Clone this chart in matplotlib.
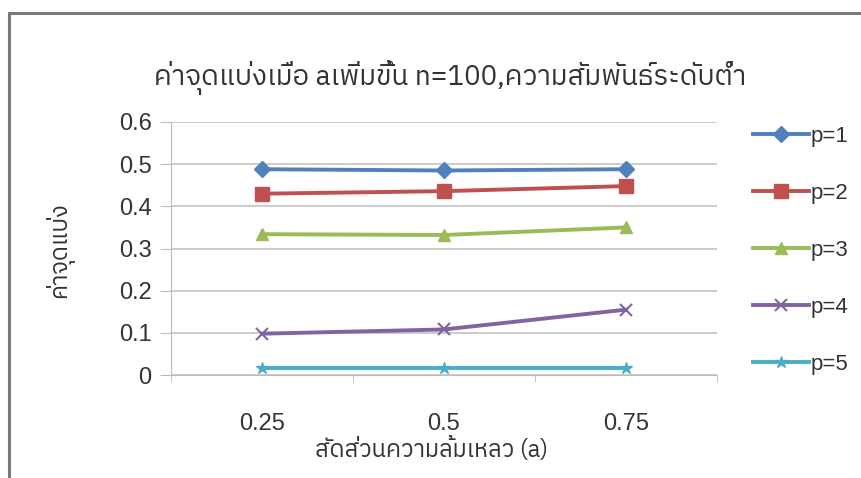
import matplotlib
matplotlib.use("Agg")
import matplotlib.pyplot as plt
from matplotlib import font_manager
from matplotlib.ft2font import FT2Font
from matplotlib.patches import Rectangle

# Data: cut-off point as failure proportion (a) grows, n=100, low correlation
categories = ["0.25", "0.5", "0.75"]
series_names = ["p=1", "p=2", "p=3", "p=4", "p=5"]
p1 = [0.488, 0.485, 0.488]
p2 = [0.430, 0.436, 0.448]
p3 = [0.334, 0.332, 0.350]
p4 = [0.098, 0.108, 0.155]
p5 = [0.016, 0.016, 0.016]
yticks = [0, 0.1, 0.2, 0.3, 0.4, 0.5, 0.6]

title = "ค่าจุดแบ่งเมื่อ aเพิ่มขึ้น n=100,ความสัมพันธ์ระดับต่ำ"
ylabel = "ค่าจุดแบ่ง"
xlabel = "สัดส่วนความล้มเหลว (a)"


def find_thai_font():
    # pick an installed font with Thai glyphs, preferring proportional ones
    # whose tone marks take no advance width
    best, best_score = None, -1
    for path in font_manager.findSystemFonts():
        try:
            ft = FT2Font(path)
            cmap = ft.get_charmap()
        except Exception:
            continue
        if 0x0E04 not in cmap or 0x0E48 not in cmap:
            continue
        name = font_manager.FontProperties(fname=path).get_name()
        score = 0
        try:
            if ft.load_char(0x0E48).linearHoriAdvance == 0:
                score += 2
        except Exception:
            pass
        if "mono" not in name.lower():
            score += 1
        if "bold" not in path.lower() and "oblique" not in path.lower() and "italic" not in path.lower():
            score += 1
        if score > best_score:
            best, best_score = name, score
    return best


thai = find_thai_font()
names = {f.name for f in font_manager.fontManager.ttflist}
narrow = "Liberation Sans Narrow" if "Liberation Sans Narrow" in names else "Liberation Sans"
fam = ([thai] if thai else []) + [narrow, "DejaVu Sans"]
num_fam = [narrow, "DejaVu Sans"]

colors = ["#4F81BD", "#C0504D", "#9BBB59", "#8064A2", "#4BACC6"]
markers = ["D", "s", "^", "x", "*"]
sizes = [8, 10, 9, 8, 9]

fig = plt.figure(figsize=(8.62, 4.78), dpi=100)
W, H = 862, 478
fig.patches.append(Rectangle((9 / W, -0.1), 1.2, (H - 13) / H + 0.1, transform=fig.transFigure,
                             fill=False, edgecolor="#7a7a7a", linewidth=2.2))

ax = fig.add_axes([171 / W, 1 - 375 / H, (717 - 171) / W, (375 - 122) / H])
x = list(range(len(categories)))
for vals, name, c, m, s in zip([p1, p2, p3, p4, p5], series_names, colors, markers, sizes):
    ax.plot(x, vals, color=c, marker=m, markersize=s, linewidth=2.8, label=name,
            markeredgewidth=1.5 if m in ("x",) else 1.0)

ax.set_xlim(-0.5, 2.5)
ax.set_ylim(0, 0.6)
ax.set_yticks(yticks)
ax.set_yticklabels(["0" if v == 0 else f"{v:.1f}" for v in yticks], family=num_fam, fontsize=17, color="#333333")
ax.set_xticks(x)
ax.set_xticklabels(categories, family=num_fam, fontsize=17, color="#333333")
ax.set_xticks([-0.5, 0.5, 1.5, 2.5], minor=True)
ax.tick_params(axis="x", which="major", length=0, pad=27)
ax.tick_params(axis="x", which="minor", length=5, color="#bbbbbb")
ax.tick_params(axis="y", length=8, color="#bbbbbb", pad=6)
ax.grid(axis="y", color="#c8c8c8", linewidth=1.3)
ax.set_axisbelow(True)
for side in ("top", "right"):
    ax.spines[side].set_visible(False)
ax.spines["left"].set_color("#bbbbbb")
ax.spines["bottom"].set_color("#bbbbbb")

fig.text(450 / W, 1 - 78 / H, title, ha="center", va="center", fontsize=20, family=fam, color="#333333")
fig.text(60 / W, 1 - 250 / H, ylabel, ha="center", va="center", rotation=90, fontsize=17, family=fam, color="#333333")
fig.text(432 / W, 1 - 450 / H, xlabel, ha="center", va="center", fontsize=17, family=fam, color="#333333")

leg = ax.legend(loc="upper left", bbox_to_anchor=(742 / W, 1 - 115 / H), bbox_transform=fig.transFigure,
                frameon=False, prop={"family": num_fam, "size": 16}, labelspacing=1.62,
                handlelength=2.5, handletextpad=0.1, borderpad=0)
for t in leg.get_texts():
    t.set_color("#333333")

fig.savefig("out.png", dpi=100)
